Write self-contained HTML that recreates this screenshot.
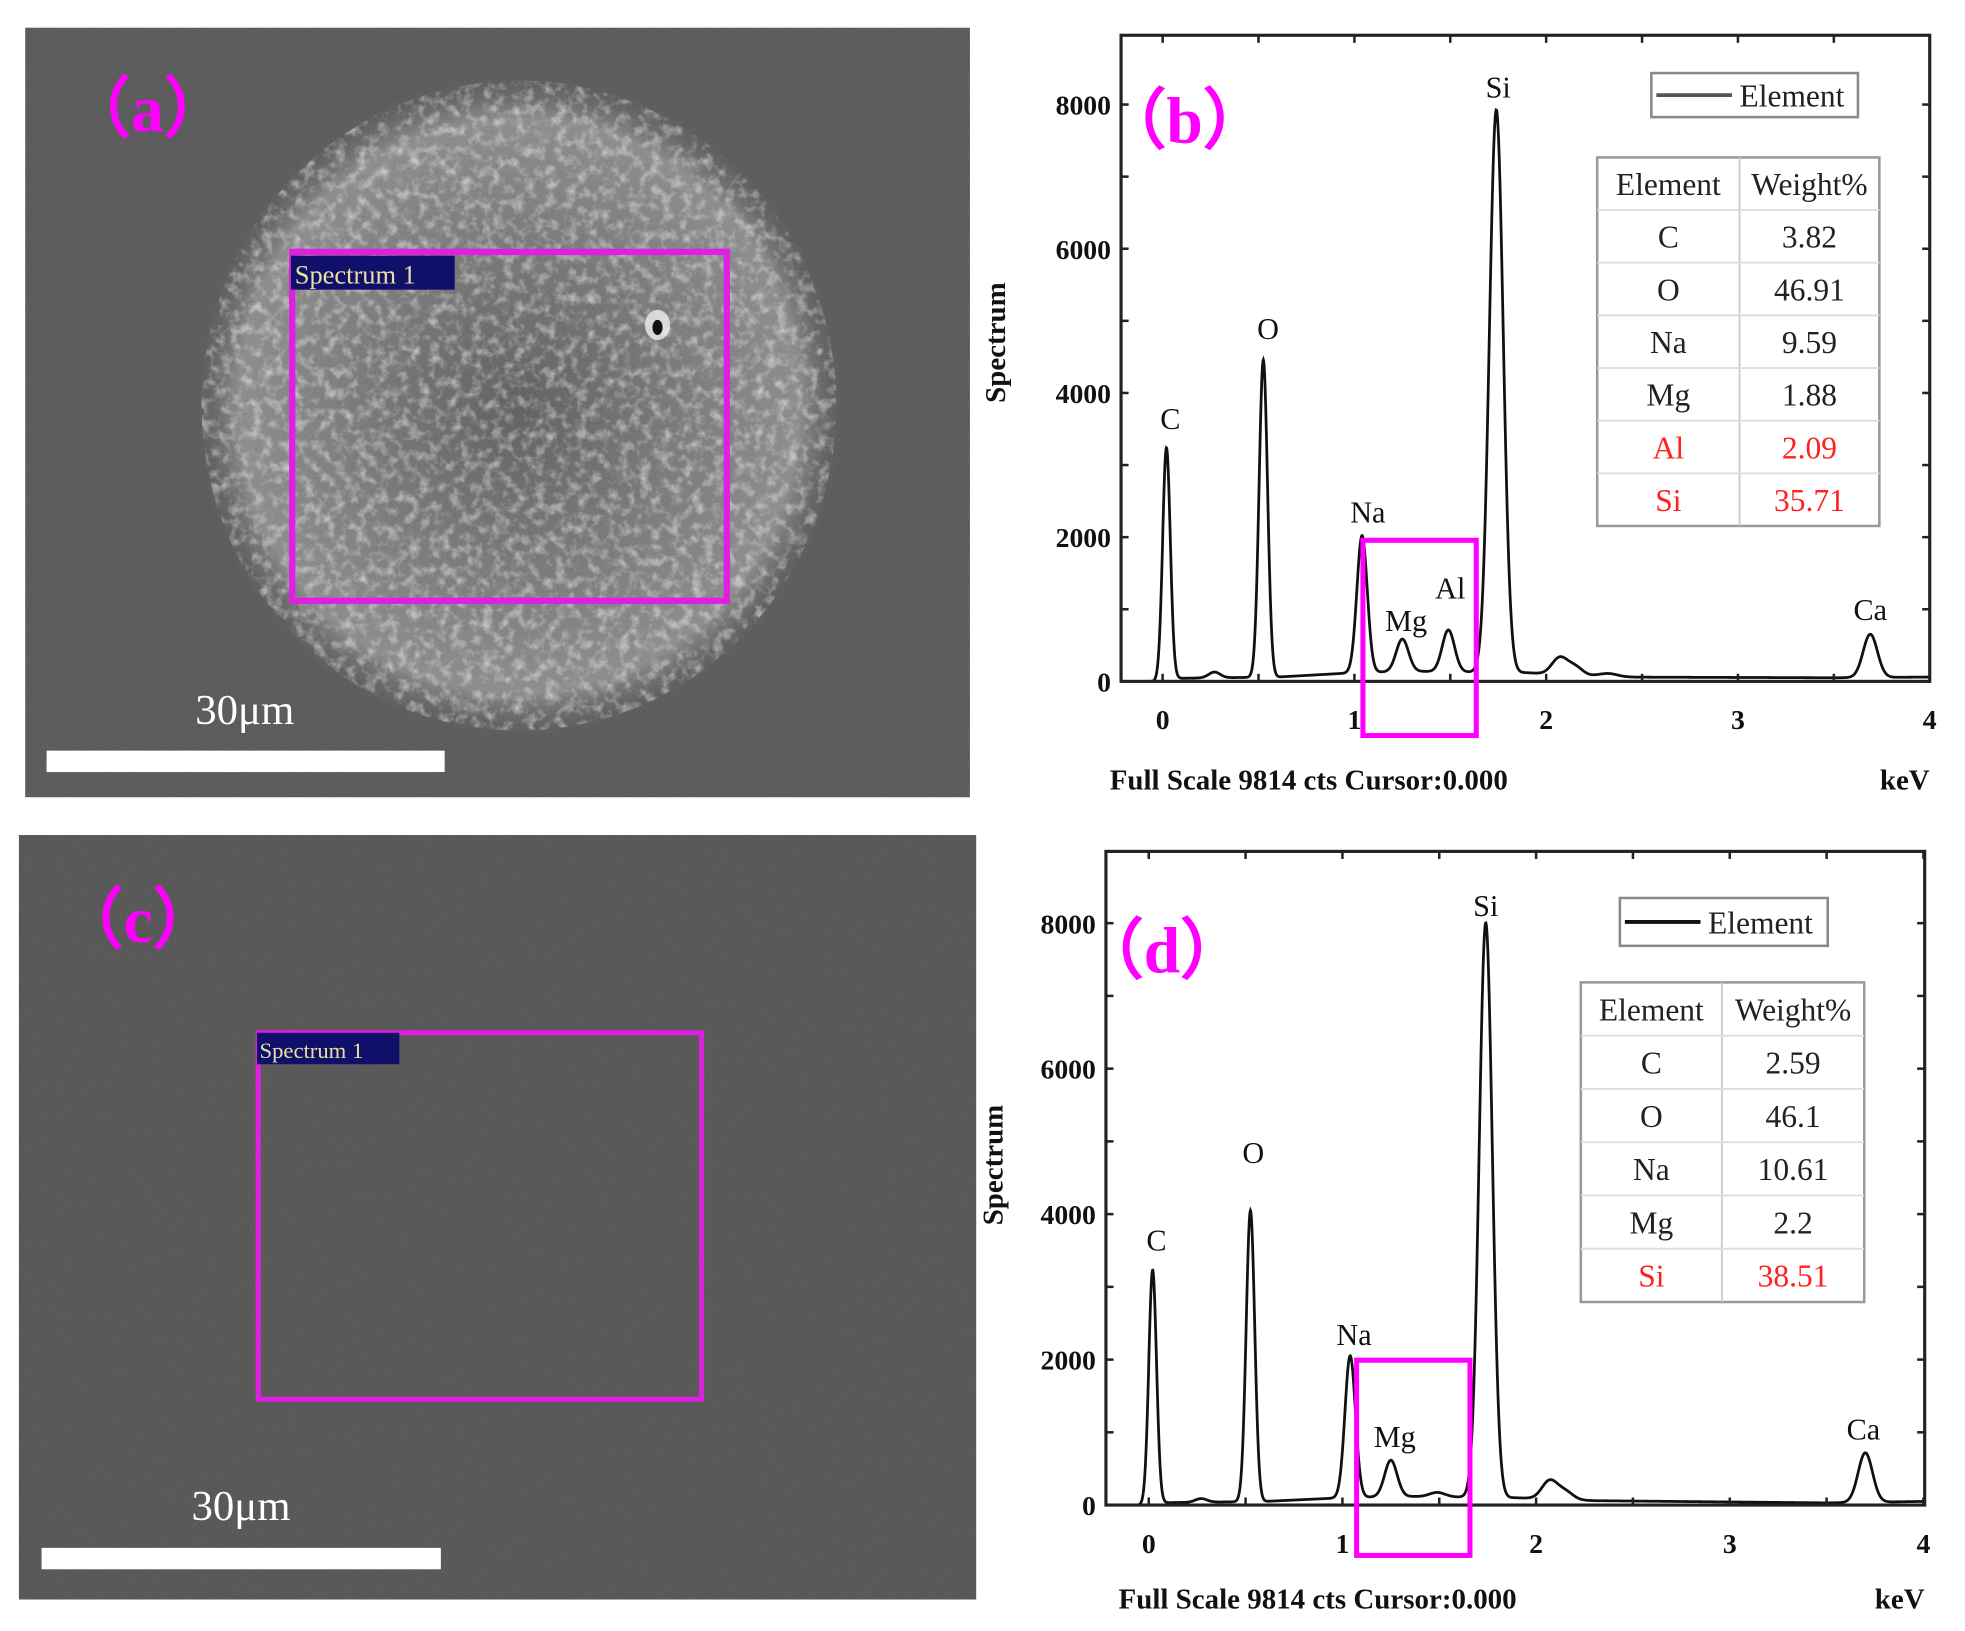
<!DOCTYPE html>
<html><head><meta charset="utf-8"><style>
html,body{margin:0;padding:0;background:#fff;}
svg{display:block;}
text{font-family:"Liberation Serif",serif;}
</style></head><body>
<svg id="fig" width="1965" height="1631" viewBox="0 0 1560 1295" preserveAspectRatio="none" xmlns="http://www.w3.org/2000/svg">
<defs>
<filter id="grain" x="0" y="0" width="100%" height="100%">
<feTurbulence type="fractalNoise" baseFrequency="0.12" numOctaves="3" seed="3"/>
<feColorMatrix type="matrix" values="0 0 0 0 1  0 0 0 0 1  0 0 0 0 1  0 0 0 1.8 -0.8"/>
</filter>
<filter id="fine" x="0" y="0" width="100%" height="100%">
<feTurbulence type="fractalNoise" baseFrequency="0.9" numOctaves="1" seed="7"/>
<feColorMatrix type="matrix" values="0 0 0 0 1  0 0 0 0 1  0 0 0 0 1  0 0 0 0.5 -0.2"/>
</filter>
<radialGradient id="blob" cx="0.5" cy="0.5" r="0.5">
<stop offset="0" stop-color="#606060"/>
<stop offset="0.5" stop-color="#7a7a7a"/>
<stop offset="0.85" stop-color="#8c8c8c"/>
<stop offset="1" stop-color="#5c5c5c" stop-opacity="0"/>
</radialGradient>
<clipPath id="clipBlob"><ellipse cx="412" cy="322" rx="252" ry="258"/></clipPath>
</defs>

<g>
<rect x="20" y="22" width="750" height="611" fill="#5a5a5a"/>
<ellipse cx="412" cy="322" rx="262" ry="268" fill="url(#blob)"/>
<rect x="140" y="50" width="540" height="560" filter="url(#grain)" clip-path="url(#clipBlob)" opacity="0.65"/>
<rect x="20" y="22" width="750" height="611" filter="url(#fine)" opacity="0.3"/>
<ellipse cx="522" cy="258" rx="10" ry="12" fill="#eee" opacity="0.8"/>
<ellipse cx="522" cy="260" rx="4" ry="6" fill="#111"/>
<rect x="232" y="200" width="345" height="277" fill="none" stroke="#e020e0" stroke-width="5"/>
<rect x="231" y="203" width="130" height="27" fill="#10106a"/>
<text x="234" y="225" font-family="Liberation Sans, sans-serif" font-size="21" fill="#e8e0a0">Spectrum 1</text>
<rect x="37" y="596" width="316" height="17" fill="#fff"/>
<text x="155" y="575" font-size="34" fill="#fff">30μm</text>
<text x="52" y="104" font-family="Liberation Serif, Noto Serif CJK SC, serif" font-size="52" font-weight="bold" fill="#ff00ff">（a）</text>
</g>

<g>
<rect x="15" y="663" width="760" height="607" fill="#575757"/>
<rect x="15" y="663" width="760" height="607" filter="url(#fine)" opacity="0.25"/>
<rect x="205" y="820" width="352" height="291" fill="none" stroke="#e020e0" stroke-width="4"/>
<rect x="204" y="820" width="113" height="25" fill="#10106a"/>
<text x="206" y="840" font-family="Liberation Sans, sans-serif" font-size="18" fill="#e8e0a0">Spectrum 1</text>
<rect x="33" y="1229" width="317" height="17" fill="#fff"/>
<text x="152" y="1207" font-size="34" fill="#fff">30μm</text>
<text x="46" y="748" font-family="Liberation Serif, Noto Serif CJK SC, serif" font-size="52" font-weight="bold" fill="#ff00ff">（c）</text>
</g>

<g id="chartB"></g>
<g id="chartD"></g>
</svg>

<script>
// ---- data: panel b ----
const peakEnergyB = [0.02, 0.27, 0.525, 1.04, 1.25, 1.49, 1.74, 2.07, 2.15, 2.32, 3.69];
const peakCountsB = [3200, 80, 4400, 1900, 450, 580, 7800, 230, 120, 50, 600];
const peakWidthB  = [0.02, 0.03, 0.022, 0.027, 0.032, 0.032, 0.036, 0.04, 0.04, 0.05, 0.037];
const backgroundB = [[0,40],[0.6,60],[1.0,120],[1.3,140],[1.9,120],[2.3,60],[3.5,50],[4,60]];
const labelElemB = ["C","O","Na","Mg","Al","Si","Ca"];
const labelEnergyB = [0.04, 0.55, 1.07, 1.27, 1.5, 1.75, 3.69];
const labelCountsB = [3500, 4750, 2200, 700, 1150, 8100, 850];
const tableElemB = ["C","O","Na","Mg","Al","Si"];
const tableWtB = ["3.82","46.91","9.59","1.88","2.09","35.71"];
const tableRedB = [false,false,false,false,true,true];

// ---- data: panel d ----
const peakEnergyD = [0.02, 0.27, 0.525, 1.04, 1.25, 1.49, 1.74, 2.07, 2.15, 3.7];
const peakCountsD = [3200, 50, 4000, 1950, 500, 60, 7900, 250, 110, 680];
const peakWidthD  = [0.02, 0.03, 0.022, 0.027, 0.032, 0.04, 0.034, 0.04, 0.04, 0.037];
const backgroundD = [[0,30],[0.6,50],[1.0,100],[1.3,120],[1.9,100],[2.3,60],[3.5,30],[4,50]];
const labelElemD = ["C","O","Na","Mg","Si","Ca"];
const labelEnergyD = [0.04, 0.54, 1.06, 1.27, 1.74, 3.69];
const labelCountsD = [3500, 4700, 2200, 800, 8100, 900];
const tableElemD = ["C","O","Na","Mg","Si"];
const tableWtD = ["2.59","46.1","10.61","2.2","38.51"];
const tableRedD = [false,false,false,false,true];

const yTicks = [0, 2000, 4000, 6000, 8000];
const xTicks = [0, 1, 2, 3, 4];

const NS = "http://www.w3.org/2000/svg";
function mk(parent, tag, attrs, txt){
  const e = document.createElementNS(NS, tag);
  for (const k in attrs) e.setAttribute(k, attrs[k]);
  if (txt !== undefined) e.textContent = txt;
  parent.appendChild(e);
  return e;
}
function bgAt(bg, e){
  for (let i=0;i<bg.length-1;i++){
    if (e>=bg[i][0] && e<=bg[i+1][0]){
      const t=(e-bg[i][0])/(bg[i+1][0]-bg[i][0]);
      return bg[i][1]+t*(bg[i+1][1]-bg[i][1]);
    }
  }
  return bg[bg.length-1][1];
}

function drawChart(g, cfg){
  const L=cfg.left, R=cfg.right, T=cfg.top, B=cfg.bottom;
  const xS = e => cfg.x0 + (cfg.x4 - cfg.x0) * e / 4;
  const yS = c => B - (B - cfg.y8000) * c / 8000;

  let d = "";
  const eMin = (L - cfg.x0) / ((cfg.x4 - cfg.x0)/4) + 0.15;
  for (let e = eMin; e <= 4.0; e += 0.002){
    let c = 0;
    for (let i=0;i<cfg.pe.length;i++){
      const z=(e-cfg.pe[i])/cfg.pw[i];
      c += cfg.pc[i]*Math.exp(-0.5*z*z);
    }
    c += (e > 0.0 ? bgAt(cfg.bg, e) : 0);
    d += (d ? "L" : "M") + xS(e).toFixed(2) + " " + yS(c).toFixed(2);
  }
  const line = mk(g, "path", {d: d, fill: "none", stroke: "#111", "stroke-width": 2.2});
  
  

  const frame = mk(g, "rect", {x: L, y: T, width: R-L, height: B-T, fill: "none", stroke: "#222", "stroke-width": 2.5});
  
  

  for (let c = 0; c <= 8000; c += 1000){
    const y = yS(c);
    mk(g, "line", {x1: L, x2: L+6, y1: y, y2: y, stroke: "#222", "stroke-width": 2});
    mk(g, "line", {x1: R, x2: R-6, y1: y, y2: y, stroke: "#222", "stroke-width": 2});
  }
  yTicks.forEach(c => {
    const t = mk(g, "text", {x: L-8, y: yS(c)+8, "text-anchor": "end", "font-size": 22, "font-weight": "bold", fill: "#111"}, String(c));
    
    
  });
  for (let e = 0; e <= 4; e += 0.5){
    const x = xS(e);
    mk(g, "line", {x1: x, x2: x, y1: B, y2: B-6, stroke: "#222", "stroke-width": 2});
    mk(g, "line", {x1: x, x2: x, y1: T, y2: T+6, stroke: "#222", "stroke-width": 2});
  }
  xTicks.forEach(e => {
    const t = mk(g, "text", {x: xS(e), y: B+38, "text-anchor": "middle", "font-size": 22, "font-weight": "bold", fill: "#111"}, String(e));
    
    
  });

  cfg.le.forEach((el, i) => {
    const t = mk(g, "text", {x: xS(cfg.lx[i]), y: yS(cfg.ly[i]), "text-anchor": "middle", "font-size": 24, fill: "#111"}, el);
    
    
  });

  const hb = mk(g, "rect", {x: cfg.hb[0], y: cfg.hb[1], width: cfg.hb[2], height: cfg.hb[3], fill: "none", stroke: "#ff00ff", "stroke-width": 4});
  
  

  const lg = mk(g, "g", {});
  
  
  mk(lg, "rect", {x: cfg.lg[0], y: cfg.lg[1], width: cfg.lg[2], height: cfg.lg[3], fill: "#fff", stroke: "#888", "stroke-width": 2});
  mk(lg, "line", {x1: cfg.lg[0]+4, x2: cfg.lg[0]+64, y1: cfg.lg[1]+cfg.lg[3]/2, y2: cfg.lg[1]+cfg.lg[3]/2, stroke: cfg.lgColor, "stroke-width": 3});
  mk(lg, "text", {x: cfg.lg[0]+70, y: cfg.lg[1]+cfg.lg[3]/2+9, "font-size": 25, fill: "#222"}, "Element");

  const tb = mk(g, "g", {});
  
  
  const [tx, ty, tw, rh, split] = cfg.tbl;
  const rows = cfg.te.length + 1;
  mk(tb, "rect", {x: tx, y: ty, width: tw, height: rh*rows, fill: "#fff", stroke: "#999", "stroke-width": 2});
  mk(tb, "line", {x1: split, x2: split, y1: ty, y2: ty+rh*rows, stroke: "#ccc", "stroke-width": 1.5});
  for (let r=1;r<rows;r++) mk(tb, "line", {x1: tx, x2: tx+tw, y1: ty+rh*r, y2: ty+rh*r, stroke: "#ddd", "stroke-width": 1.5});
  const c1 = (tx+split)/2, c2 = (split+tx+tw)/2;
  mk(tb, "text", {x: c1, y: ty+rh*0.5+9, "text-anchor": "middle", "font-size": 25, fill: "#222"}, "Element");
  mk(tb, "text", {x: c2, y: ty+rh*0.5+9, "text-anchor": "middle", "font-size": 25, fill: "#222"}, "Weight%");
  cfg.te.forEach((el, i) => {
    const col = cfg.tr[i] ? "#ff2020" : "#222";
    const y = ty + rh*(i+1.5) + 9;
    const a = mk(tb, "text", {x: c1, y: y, "text-anchor": "middle", "font-size": 25, fill: col}, el);
    
    
    const b = mk(tb, "text", {x: c2, y: y, "text-anchor": "middle", "font-size": 25, fill: col}, cfg.tw[i]);
    
    
  });

  const yt = mk(g, "text", {x: 0, y: 0, transform: `translate(${cfg.ytX},${cfg.ytY}) rotate(-90)`, "text-anchor": "middle", "font-size": 23, "font-weight": "bold", fill: "#111"}, "Spectrum");
  
  
  const fs = mk(g, "text", {x: cfg.fsX, y: cfg.fsY, "font-size": 23, "font-weight": "bold", fill: "#111"}, "Full Scale 9814 cts Cursor:0.000");
  
  
  const kv = mk(g, "text", {x: R, y: cfg.fsY, "text-anchor": "end", "font-size": 23, "font-weight": "bold", fill: "#111"}, "keV");
  
  

  const pl = mk(g, "text", {x: cfg.plX, y: cfg.plY, "font-family": "Liberation Serif, Noto Serif CJK SC, serif", "font-size": 52, "font-weight": "bold", fill: "#ff00ff"}, cfg.pl);
  
  
}

drawChart(document.getElementById("chartB"), {
  left: 890, right: 1532, top: 28, bottom: 541, x0: 923, x4: 1532, y8000: 83,
  pe: peakEnergyB, pc: peakCountsB, pw: peakWidthB, bg: backgroundB,
  le: labelElemB, lx: labelEnergyB, ly: labelCountsB,
  hb: [1082, 429, 90, 155], lg: [1311, 58, 164, 35], lgColor: "#555",
  tbl: [1268, 125, 224, 41.8, 1381], te: tableElemB, tw: tableWtB, tr: tableRedB,
  ytX: 798, ytY: 272, fsX: 881, fsY: 627, pl: "（b）", plX: 874, plY: 113
});
drawChart(document.getElementById("chartD"), {
  left: 878, right: 1528, top: 676, bottom: 1195, x0: 912, x4: 1527, y8000: 733,
  pe: peakEnergyD, pc: peakCountsD, pw: peakWidthD, bg: backgroundD,
  le: labelElemD, lx: labelEnergyD, ly: labelCountsD,
  hb: [1077, 1080, 90, 155], lg: [1286, 713, 165, 38], lgColor: "#111",
  tbl: [1255, 780, 225, 42.3, 1367], te: tableElemD, tw: tableWtD, tr: tableRedD,
  ytX: 796, ytY: 925, fsX: 888, fsY: 1277, pl: "（d）", plX: 856, plY: 772
});
</script>
</body></html>
